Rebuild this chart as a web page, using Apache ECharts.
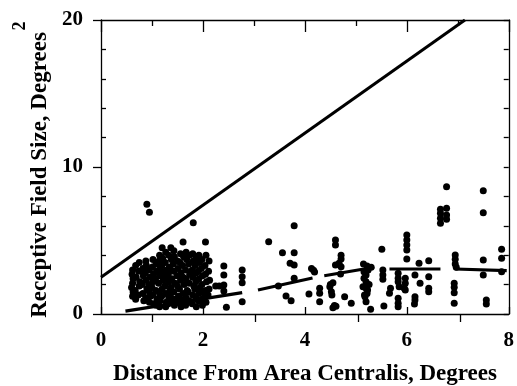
<!DOCTYPE html>
<html>
<head>
<meta charset="utf-8">
<script src="https://cdn.jsdelivr.net/npm/echarts@6/dist/echarts.min.js"></script>
<style>
  html, body { margin: 0; padding: 0; background: #fff; }
  #chart { width: 517px; height: 386px; }
</style>
</head>
<body>
<div id="chart"></div>
<script>
// eccentricity (deg) vs receptive field size (deg^2)
const nearCells = [
  [0.90, 7.46], [0.95, 6.92], [1.81, 6.21],
  [0.62, 3.0], [0.61, 2.7], [0.63, 2.4], [0.62, 2.1], [0.60, 1.8], [0.63, 1.5], [0.62, 1.2],
  [0.68, 3.3], [0.69, 2.5], [0.67, 1.6], [0.68, 1.0],
  [0.75, 3.5], [0.74, 2.9], [0.76, 2.2], [0.75, 1.9], [0.73, 1.3],
  [0.82, 3.1], [0.83, 2.6], [0.81, 2.0], [0.82, 1.4], [0.84, 0.9],
  [0.88, 3.6], [0.89, 3.3], [0.87, 2.8], [0.88, 2.3], [0.90, 1.7], [0.88, 1.1],
  [0.95, 3.0], [0.96, 2.5], [0.94, 2.0], [0.95, 1.5], [0.97, 1.2], [0.95, 0.8],
  [1.02, 3.7], [1.01, 3.2], [1.03, 2.7], [1.02, 2.2], [1.00, 1.8], [1.02, 1.3], [1.03, 0.7],
  [1.08, 3.4], [1.09, 2.9], [1.07, 2.4], [1.08, 1.6], [1.10, 1.0], [1.08, 0.6],
  [1.15, 4.0], [1.14, 3.6], [1.16, 3.1], [1.15, 2.6], [1.13, 2.1], [1.15, 1.4], [1.16, 0.9], [1.15, 0.5],
  [1.20, 4.5], [1.21, 3.8], [1.19, 3.3], [1.20, 2.8], [1.22, 2.3], [1.20, 1.7], [1.19, 1.2],
  [1.27, 4.2], [1.26, 3.5], [1.28, 3.0], [1.27, 2.5], [1.25, 1.9], [1.27, 1.4], [1.28, 0.8], [1.27, 0.5],
  [1.33, 4.0], [1.34, 3.2], [1.32, 2.7], [1.33, 2.2], [1.35, 1.6], [1.33, 1.1], [1.32, 0.7],
  [1.37, 4.5], [1.38, 3.7], [1.37, 3.0], [1.39, 2.4], [1.37, 1.8], [1.36, 1.3], [1.38, 0.9],
  [1.43, 4.3], [1.44, 3.9], [1.42, 3.4], [1.43, 2.9], [1.45, 2.1], [1.43, 1.5], [1.42, 1.0], [1.44, 0.6],
  [1.50, 3.6], [1.51, 3.1], [1.49, 2.6], [1.50, 1.9], [1.52, 1.2], [1.50, 0.8],
  [1.56, 4.1], [1.55, 3.5], [1.57, 2.8], [1.56, 2.3], [1.54, 1.7], [1.56, 1.0], [1.57, 0.5],
  [1.61, 4.9], [1.62, 3.9], [1.60, 3.3], [1.61, 2.5], [1.63, 2.0], [1.61, 1.4], [1.60, 0.8],
  [1.67, 4.2], [1.68, 3.7], [1.66, 3.0], [1.67, 2.4], [1.69, 1.6], [1.67, 1.1], [1.66, 0.6],
  [1.73, 4.0], [1.72, 3.4], [1.74, 2.7], [1.73, 2.1], [1.71, 1.5], [1.73, 0.9],
  [1.80, 4.1], [1.81, 3.6], [1.79, 3.0], [1.80, 2.5], [1.82, 1.9], [1.80, 1.3], [1.79, 0.7],
  [1.86, 3.8], [1.85, 3.3], [1.87, 2.8], [1.86, 2.2], [1.84, 1.7], [1.86, 1.1], [1.87, 0.5],
  [1.92, 4.0], [1.93, 3.5], [1.91, 2.9], [1.92, 2.4], [1.94, 1.8], [1.92, 1.4], [1.91, 0.9],
  [1.98, 3.7], [1.97, 3.1], [1.99, 2.6], [1.98, 2.0], [1.96, 1.5], [1.98, 1.0], [1.99, 0.6],
  [2.05, 4.9], [2.06, 4.0], [2.04, 3.3], [2.05, 2.7], [2.07, 2.2], [2.05, 1.6], [2.04, 1.2], [2.06, 0.8],
  [2.12, 3.6], [2.11, 2.9], [2.13, 2.3], [2.12, 1.7], [2.10, 1.3],
  [2.25, 1.9], [2.32, 1.9],
  [2.41, 3.27], [2.41, 2.65], [2.41, 1.97], [2.41, 1.56], [2.46, 0.46],
  [2.77, 3.0], [2.77, 2.54], [2.77, 2.13], [2.77, 0.84]
]
const midCells = [
  [3.29, 4.92], [3.56, 4.17], [3.79, 4.17], [3.79, 6.0], [3.71, 3.45], [3.79, 3.33],
  [3.79, 2.43], [3.48, 1.9], [3.63, 1.22], [3.73, 0.9], [4.08, 1.36],
  [4.13, 3.1], [4.17, 2.98], [4.19, 2.86],
  [4.29, 1.75], [4.29, 1.41], [4.29, 0.84],
  [4.49, 1.86], [4.52, 1.52], [4.53, 1.29], [4.58, 0.57], [4.55, 0.43], [4.61, 0.52], [4.55, 2.13], [4.5, 2.0],
  [4.6, 5.03], [4.6, 4.69], [4.71, 4.0], [4.71, 3.74], [4.67, 3.45], [4.6, 3.33], [4.71, 3.22], [4.7, 2.72],
  [4.78, 1.18], [4.91, 0.73],
  [5.15, 3.4], [5.22, 3.27], [5.3, 3.18], [5.16, 2.88], [5.2, 2.65], [5.16, 2.43], [5.2, 2.2],
  [5.14, 1.86], [5.2, 1.75], [5.23, 1.63], [5.18, 1.18], [5.2, 0.84], [5.29, 0.32],
  [5.24, 3.0], [5.26, 2.0], [5.22, 1.4], [5.17, 1.29]
]
const farCells = [
  [5.51, 4.4], [5.53, 3.0], [5.53, 2.65], [5.53, 2.36], [5.55, 0.54],
  [5.68, 1.75], [5.66, 1.41],
  [5.83, 2.77], [5.83, 2.43], [5.83, 2.2], [5.85, 1.86], [5.83, 1.07], [5.83, 0.73], [5.83, 0.5],
  [6.0, 5.37], [6.0, 5.03], [6.0, 4.69], [6.0, 4.35], [6.0, 3.74],
  [5.97, 2.43], [5.97, 2.09], [5.97, 1.63], [5.95, 1.75],
  [6.16, 2.65], [6.16, 1.18], [6.16, 0.95], [6.15, 0.68],
  [6.24, 3.45], [6.26, 2.09],
  [6.43, 3.63], [6.43, 2.54], [6.43, 1.75], [6.43, 1.52],
  [6.66, 7.12], [6.66, 6.85], [6.66, 6.51], [6.66, 6.17],
  [6.78, 7.19], [6.78, 6.73], [6.78, 6.44], [6.78, 8.66],
  [6.95, 4.01], [6.95, 3.72], [6.95, 3.4], [6.97, 3.18],
  [6.93, 2.09], [6.93, 1.82], [6.93, 1.45], [6.93, 0.73],
  [7.5, 8.39], [7.5, 6.89], [7.5, 3.67], [7.5, 2.65], [7.56, 0.95], [7.56, 0.68],
  [7.86, 4.4], [7.86, 3.79], [7.86, 2.88]
]
// upper bound line and the binned fits
const diagonalLine = [[0, 2.5], [7.14, 20]]
const fitSegments = [
  [[0.48, 0.2], [2.77, 1.45]],
  [[3.08, 1.63], [4.15, 2.45]],
  [[4.38, 2.6], [5.36, 3.18]],
  [[5.66, 3.06], [6.66, 3.06]],
  [[6.95, 3.06], [7.96, 2.95]]
]
const xLabelTicks = [0, 2, 4, 6, 8]
const xOddTicks = [1, 3, 5, 7]
const yMinorTicks = [2, 4, 6, 8, 12, 14, 16, 18]

const serif = '"Liberation Serif", "Times New Roman", serif'
const black = '#000'
const gridBox = () => ({ left: 101, right: 5, top: 20, bottom: 72 })
const ls = () => ({ color: black, width: 1.3 })
const labelStyle = () => ({ color: black, fontFamily: serif, fontWeight: 'bold', fontSize: 21 })
const noLine = () => ({ show: false, onZero: false })
// onZero off, otherwise the top/right lines get snapped onto the bottom/left
const frameLine = () => ({ show: true, onZero: false, lineStyle: ls() })

const chart = echarts.init(document.getElementById('chart'))

const series = [
  {
    type: 'scatter', xAxisIndex: 0, yAxisIndex: 0, symbolSize: 7,
    itemStyle: { color: black, opacity: 1 }, data: nearCells.concat(midCells, farCells)
  },
  {
    type: 'line', xAxisIndex: 0, yAxisIndex: 0, data: diagonalLine, showSymbol: false,
    lineStyle: { color: black, width: 3 }
  }
]
fitSegments.forEach(seg => {
  series.push({
    type: 'line', xAxisIndex: 0, yAxisIndex: 0, data: seg, showSymbol: false,
    lineStyle: { color: black, width: 3.2 }
  })
})

chart.setOption({
  backgroundColor: '#fff',
  animation: false,
  grid: [gridBox(), gridBox()],
  xAxis: [
    {
      gridIndex: 0, type: 'value', position: 'bottom', min: 0, max: 8, interval: 2,
      axisLine: frameLine(), splitLine: { show: false },
      axisTick: { show: true, inside: true, length: 7, lineStyle: ls(), customValues: xLabelTicks },
      axisLabel: Object.assign({ margin: 16, customValues: xLabelTicks }, labelStyle())
    },
    {
      gridIndex: 0, type: 'value', position: 'top', min: 0, max: 8, interval: 2,
      axisLine: frameLine(), splitLine: { show: false },
      axisTick: { show: true, inside: true, length: 12, lineStyle: ls() },
      minorTick: { show: true, splitNumber: 2, length: 6, lineStyle: ls() },
      axisLabel: { show: false }
    },
    {
      gridIndex: 1, type: 'value', position: 'bottom', min: 0, max: 8, interval: 1,
      axisLine: noLine(), splitLine: { show: false },
      axisTick: { show: true, inside: false, length: 8, lineStyle: ls(), customValues: xOddTicks },
      axisLabel: { show: false }
    }
  ],
  yAxis: [
    {
      gridIndex: 0, type: 'value', position: 'left', min: 0, max: 20, interval: 10,
      axisLine: frameLine(), splitLine: { show: false },
      axisTick: { show: true, inside: false, length: 8, lineStyle: ls() },
      axisLabel: Object.assign({ margin: 18 }, labelStyle())
    },
    {
      gridIndex: 0, type: 'value', position: 'right', min: 0, max: 20, interval: 2,
      axisLine: frameLine(), splitLine: { show: false },
      axisTick: { show: true, inside: true, length: 5, lineStyle: ls() },
      axisLabel: { show: false }
    },
    {
      gridIndex: 1, type: 'value', position: 'left', min: 0, max: 20, interval: 2,
      axisLine: noLine(), splitLine: { show: false },
      axisTick: { show: true, inside: true, length: 5, lineStyle: ls(), customValues: yMinorTicks },
      axisLabel: { show: false }
    }
  ],
  graphic: [
    {
      type: 'text', x: 40, y: 175, rotation: Math.PI / 2,
      style: {
        text: 'Receptive Field Size, Degrees', fill: black,
        font: 'bold 23px ' + serif, textAlign: 'center', textVerticalAlign: 'middle'
      }
    },
    {
      type: 'text', x: 20, y: 26, rotation: Math.PI / 2,
      style: {
        text: '2', fill: black,
        font: 'bold 18px ' + serif, textAlign: 'center', textVerticalAlign: 'middle'
      }
    },
    {
      type: 'text', x: 305, y: 374,
      style: {
        text: 'Distance From Area Centralis, Degrees', fill: black,
        font: 'bold 23px ' + serif, textAlign: 'center', textVerticalAlign: 'middle'
      }
    }
  ],
  series
})
</script>
</body>
</html>
